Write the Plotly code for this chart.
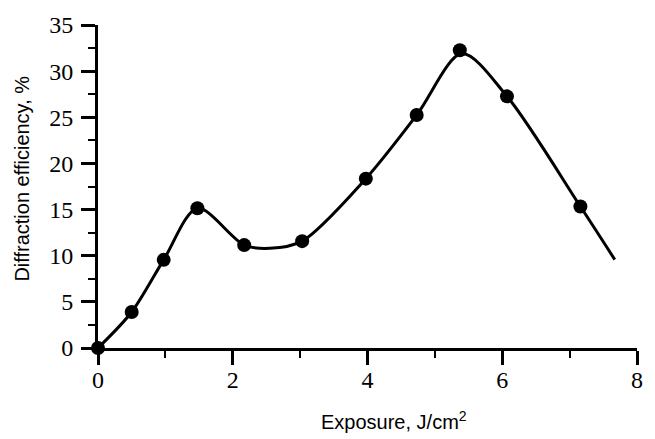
import plotly.graph_objects as go

# Measured points
exposure = [0, 0.5, 0.975, 1.475, 2.17, 3.03, 3.975, 4.73, 5.37, 6.07, 7.16]
efficiency = [0, 3.9, 9.55, 15.15, 11.15, 11.58, 18.35, 25.24, 32.26, 27.27, 15.33]

# Smooth guide curve through the data
fit_x = [0, 0.5, 0.975, 1.475, 2.17, 2.55, 3.03, 3.975, 4.73, 5.40, 6.07, 7.16, 7.67]
fit_y = [0, 3.9, 9.55, 15.15, 11.15, 10.8, 11.58, 18.35, 25.24, 31.9, 27.27, 15.33, 9.58]

x_ticks = [0, 2, 4, 6, 8]
y_ticks = [0, 5, 10, 15, 20, 25, 30, 35]

fig = go.Figure()
fig.add_trace(go.Scatter(
    x=fit_x, y=fit_y, mode="lines",
    line=dict(color="black", width=3, shape="spline", smoothing=0.85),
    cliponaxis=False, hoverinfo="skip", showlegend=False,
))
fig.add_trace(go.Scatter(
    x=exposure, y=efficiency, mode="markers",
    marker=dict(color="black", size=14),
    cliponaxis=False, showlegend=False,
))

tick_font = dict(family="Liberation Serif", size=24, color="black")
title_font = dict(family="Liberation Sans", size=20, color="black")

fig.update_layout(
    width=655, height=439,
    margin=dict(l=98, r=13, t=21, b=91),
    paper_bgcolor="white", plot_bgcolor="white",
    xaxis=dict(
        range=[0, 8], tickvals=x_ticks, ticktext=[str(v) for v in x_ticks],
        showgrid=False, zeroline=False,
        showline=True, linecolor="black", linewidth=3,
        ticks="outside", ticklen=14, tickwidth=2.5, tickcolor="black",
        minor=dict(dtick=1, ticks="outside", ticklen=7, tickwidth=2, tickcolor="black"),
        tickfont=tick_font, ticklabelstandoff=-6,
    ),
    yaxis=dict(
        range=[0, 35], tickvals=y_ticks, ticktext=[str(v) for v in y_ticks],
        showgrid=False, zeroline=False,
        showline=True, linecolor="black", linewidth=3,
        ticks="outside", ticklen=14, tickwidth=2.5, tickcolor="black",
        minor=dict(dtick=2.5, ticks="outside", ticklen=7, tickwidth=2, tickcolor="black"),
        tickfont=tick_font, ticklabelstandoff=3,
    ),
    annotations=[
        dict(text="Exposure, J/cm<sup>2</sup>", xref="paper", yref="paper",
             x=0.55, y=-0.223, xanchor="center", yanchor="middle",
             showarrow=False, font=title_font),
        dict(text="Diffraction efficiency, %", xref="paper", yref="paper",
             x=-0.14, y=0.523, xanchor="center", yanchor="middle",
             textangle=-90, showarrow=False, font=title_font),
    ],
)

fig.write_html("out.html")
